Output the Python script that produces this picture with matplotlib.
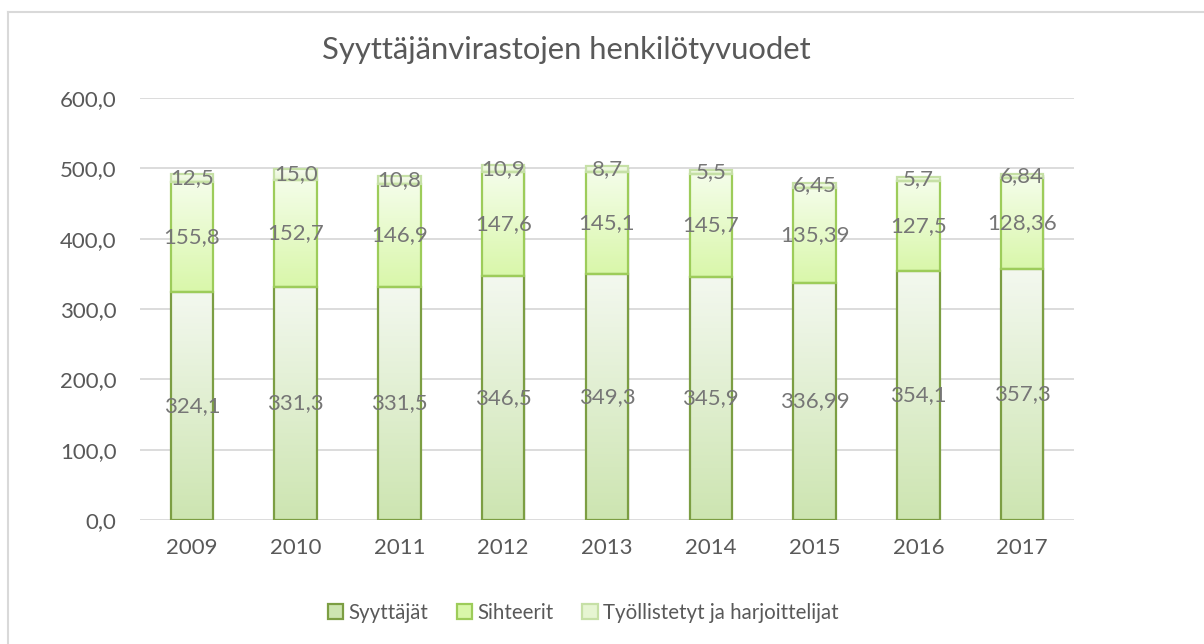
import matplotlib
matplotlib.use('Agg')
import matplotlib.pyplot as plt
import numpy as np
from matplotlib import colors
from matplotlib.patches import Rectangle
from matplotlib.lines import Line2D

plt.rcParams['font.family'] = ['Lato', 'DejaVu Sans']

years = ['2009', '2010', '2011', '2012', '2013', '2014', '2015', '2016', '2017']
syyttajat = [324.1, 331.3, 331.5, 346.5, 349.3, 345.9, 336.99, 354.1, 357.3]
sihteerit = [155.8, 152.7, 146.9, 147.6, 145.1, 145.7, 135.39, 127.5, 128.36]
tyollistetyt = [12.5, 15.0, 10.8, 10.9, 8.7, 5.5, 6.45, 5.7, 6.84]
lbl_syy = ['324,1', '331,3', '331,5', '346,5', '349,3', '345,9', '336,99', '354,1', '357,3']
lbl_sih = ['155,8', '152,7', '146,9', '147,6', '145,1', '145,7', '135,39', '127,5', '128,36']
lbl_tyo = ['12,5', '15,0', '10,8', '10,9', '8,7', '5,5', '6,45', '5,7', '6,84']
series_names = ['Syyttäjät', 'Sihteerit', 'Työllistetyt ja harjoittelijat']

# (top colour, bottom colour, edge colour)
styles = [('#f3f8ef', '#cde5b1', '#7c9e43'),
          ('#f4fde9', '#d9f7aa', '#9dcc5a'),
          ('#f7fcf0', '#e6f5d2', '#c6e0a6')]

fig = plt.figure(figsize=(12.04, 6.44), dpi=100)
ax = fig.add_axes([140/1204, 124/644, 934/1204, 422/644])

x = np.arange(len(years))
w = 0.41

def grad_bar(xc, y0, h, top, bottom, edge):
    c1 = np.array(colors.to_rgb(top))
    c2 = np.array(colors.to_rgb(bottom))
    t = np.linspace(0, 1, 64)[:, None]
    img = (c1 * (1 - t) + c2 * t)[:, None, :]
    ax.imshow(img, extent=(xc - w/2, xc + w/2, y0, y0 + h), origin='upper',
              aspect='auto', zorder=3, interpolation='bilinear')
    ax.add_patch(Rectangle((xc - w/2, y0), w, h, facecolor='none',
                           edgecolor=edge, linewidth=1.6, zorder=4))

bottoms = np.zeros(len(years))
for vals, lbls, st in zip([syyttajat, sihteerit, tyollistetyt],
                          [lbl_syy, lbl_sih, lbl_tyo], styles):
    for i, v in enumerate(vals):
        # soft shadow
        ax.add_patch(Rectangle((x[i] - w/2 + 0.012, bottoms[i] - 2), w, v,
                               facecolor='#000000', alpha=0.06, linewidth=0, zorder=2))
        grad_bar(x[i], bottoms[i], v, *st)
        ax.text(x[i], bottoms[i] + v/2, lbls[i], ha='center', va='center',
                fontsize=16, color='#767676', zorder=5)
    bottoms += np.array(vals)

ax.set_xlim(-0.5, len(years) - 0.5)
ax.set_ylim(0, 600)
ax.set_yticks(np.arange(0, 601, 100))
ax.set_yticklabels([f'{v:.1f}'.replace('.', ',') for v in np.arange(0, 601, 100)])
ax.set_xticks(x)
ax.set_xticklabels(years)
ax.tick_params(length=0, labelsize=16, labelcolor='#595959')
ax.tick_params(axis='y', pad=17)
ax.tick_params(axis='x', pad=13)
ax.grid(axis='y', color='#d9d9d9', linewidth=1.3, zorder=0)
ax.set_axisbelow(True)
for s in ax.spines.values():
    s.set_visible(False)

fig.text(566/1204, 1 - 50/644, 'Syyttäjänvirastojen henkilötyvuodet',
         ha='center', va='center', fontsize=22.3, color='#595959')

handles = [Rectangle((0, 0), 1, 1, facecolor=st[1], edgecolor=st[2], linewidth=1.6)
           for st in styles]
fig.legend(handles, series_names, loc='center', bbox_to_anchor=(583/1204, 1 - 613/644),
           ncol=3, frameon=False, fontsize=14.8, labelcolor='#595959',
           handlelength=0.75, handleheight=0.75, handletextpad=0.25, columnspacing=1.4)

# chart area border (left and top edges visible)
fig.add_artist(Line2D([8/1204, 8/1204], [0, 1 - 12/644], color='#d9d9d9', linewidth=1.5))
fig.add_artist(Line2D([8/1204, 1], [1 - 12/644, 1 - 12/644], color='#d9d9d9', linewidth=1.5))

plt.savefig('out.png', dpi=100)
